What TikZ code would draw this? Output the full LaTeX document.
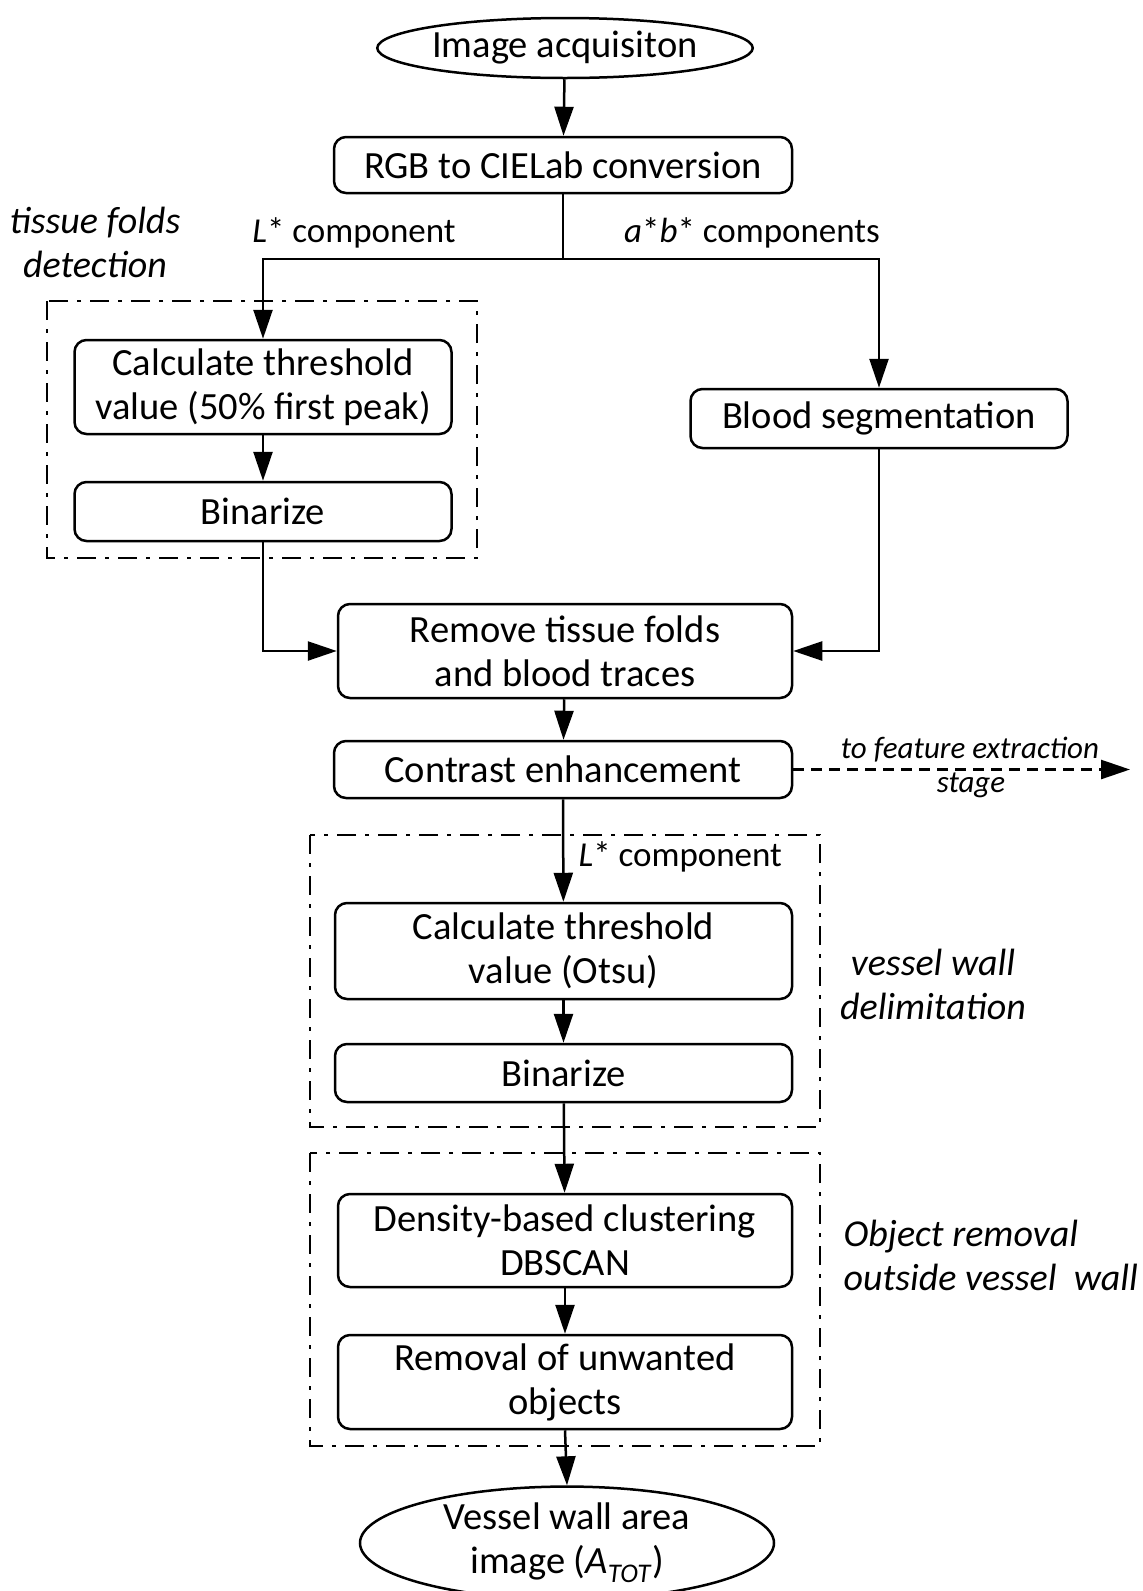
\documentclass[tikz,border=0pt]{standalone}
\usepackage{fontspec}
\setmainfont{Carlito}
\usetikzlibrary{arrows.meta,shapes.geometric}

\tikzset{
    every node/.style={font=\fontsize{38.5}{44}\selectfont},
    procbox/.style={draw, line width=2.5pt, rounded corners=12pt, align=center, inner sep=0pt},
    termell/.style={draw, ellipse, line width=2.5pt, align=center, inner sep=0pt},
    groupbox/.style={line width=2.8pt, dash pattern=on 19pt off 9pt on 4pt off 9pt},
    arr/.style={line width=2.5pt, -{Triangle[length=29pt,width=19pt]}},
    lbl/.style={font=\fontsize{35}{42}\selectfont},
    lblit/.style={font=\fontsize{38}{44}\selectfont\itshape, align=center},
    featlbl/.style={font=\fontsize{31}{36}\selectfont\itshape},
}

\begin{document}
\begin{tikzpicture}[x=1pt, y=-1pt]

    \useasboundingbox (0,0) rectangle (1143,1591);

    %% Input and colour conversion
    \node[termell, minimum width=342, minimum height=60] (acq) at (565,48) {Image acquisiton};
    \node[procbox, minimum width=458, minimum height=56] (rgb) at (563,165) {RGB to CIELab conversion};
    \coordinate (split) at (563,259);
    \node[lbl] (lcomp) at (354,233) {\textit{L}* component};
    \node[lbl] (abcomp) at (752,233) {\textit{a}*\textit{b}* components};

    %% Tissue folds detection
    \draw[groupbox] (47,301) rectangle (477,558);
    \node[lblit] (tfd) at (95,242) {tissue folds\\detection};
    \node[procbox, minimum width=377, minimum height=94] (calca) at (263,387) {Calculate threshold\\value (50\% first peak)};
    \node[procbox, minimum width=377, minimum height=59] (bina) at (263,511.5) {Binarize};

    %% Blood
    \node[procbox, minimum width=377, minimum height=59] (blood) at (879,418.5) {Blood segmentation};

    \node[procbox, minimum width=454, minimum height=94] (remove) at (565,651) {Remove tissue folds\\and blood traces};
    \node[procbox, minimum width=458, minimum height=57] (contrast) at (563,769.5) {Contrast enhancement};
    \coordinate (out) at (1130,769.5);
    \node[featlbl] (feat) at (970,750) {to feature extraction};
    \node[featlbl] (stage) at (971,785) {stage};

    %% Vessel wall delimitation
    \draw[groupbox] (310,835) rectangle (820,1127);
    \node[lbl, anchor=west] (lcompb) at (575,857) {\textit{L}* component};
    \node[procbox, minimum width=457, minimum height=96] (calcb) at (563.5,951) {Calculate threshold\\value (Otsu)};
    \node[procbox, minimum width=457, minimum height=58] (binb) at (563.5,1073) {Binarize};
    \node[lblit] (vwd) at (933,984) {vessel wall\\delimitation};

    %% Object removal
    \draw[groupbox] (310,1153) rectangle (820,1446);
    \node[procbox, minimum width=454, minimum height=93] (dbscan) at (565,1240.5) {Density-based clustering\\DBSCAN};
    \node[procbox, minimum width=454, minimum height=94] (unw) at (565,1382) {Removal of unwanted\\objects};
    \node[lblit, anchor=west, align=left] (orm) at (840,1255) {Object removal\\outside vessel\ \ wall};

    \node[termell, minimum width=414, minimum height=106] (area) at (567,1543) {Vessel wall area\\image (\textit{A}\textsubscript{\textit{TOT}})};

    %% Connectors
    \draw[arr] (acq) -- (rgb);
    \draw[line width=2.5pt] (rgb.south) -- (split);
    \draw[arr] (split) -| (calca.north);
    \draw[arr] (split) -| (blood.north);
    \draw[arr] (calca) -- (bina);
    \draw[arr] (bina.south) |- (remove.west);
    \draw[arr] (blood.south) |- (remove.east);
    \draw[arr] (remove) -- (contrast);
    \draw[arr, dash pattern=on 11pt off 7pt] (contrast.east) -- (out);
    \draw[arr] (contrast) -- (calcb);
    \draw[arr] (calcb) -- (binb);
    \draw[arr] (binb) -- (dbscan);
    \draw[arr] (dbscan) -- (unw);
    \draw[arr] (unw.south) -- (area.north);

\end{tikzpicture}
\end{document}
